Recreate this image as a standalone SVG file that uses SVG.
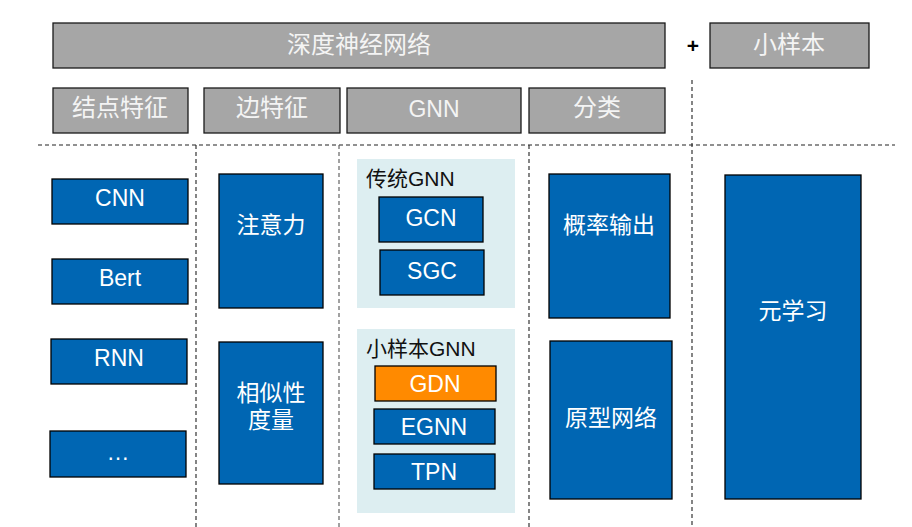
<svg xmlns="http://www.w3.org/2000/svg" width="912" height="527" viewBox="0 0 912 527">
<style>
.g{fill:#A6A6A6;stroke:#1a1a1a;stroke-width:1.3}
.b{fill:#0066B3;stroke:#000;stroke-width:1.3}
.o{fill:#FF8A00;stroke:#000;stroke-width:1.3}
.p{fill:#DDEEF1;stroke:none}
.tg{fill:#F4F4F4;font-family:"Liberation Sans","Noto Sans CJK SC",sans-serif;font-size:24px;text-anchor:middle}
.tw{fill:#FFFFFF;font-family:"Liberation Sans","Noto Sans CJK SC",sans-serif;font-size:23px;text-anchor:middle}
.tk{fill:#111;font-family:"Liberation Sans","Noto Sans CJK SC",sans-serif;font-size:21px}
.d{stroke:#222;stroke-width:1.1;stroke-dasharray:4,3;fill:none}
</style>
<g id="connectors">
<line class="d" x1="38" y1="145" x2="895" y2="145"/>
<line class="d" x1="196" y1="145" x2="196" y2="527"/>
<line class="d" x1="339" y1="145" x2="339" y2="527" style="stroke:#555"/>
<line class="d" x1="529" y1="145" x2="529" y2="527"/>
<line class="d" x1="692" y1="80" x2="692" y2="527"/>
</g>
<g id="dnn"><rect class="g" x="53" y="23" width="612" height="45"/><text class="tg" x="359" y="53">深度神经网络</text></g>
<g id="plus"><text x="693" y="53" font-family="Liberation Sans, sans-serif" font-size="21" font-weight="bold" text-anchor="middle" fill="#000">+</text></g>
<g id="fewshot"><rect class="g" x="710" y="23" width="159" height="45"/><text class="tg" x="789" y="53">小样本</text></g>
<g id="nodefeat"><rect class="g" x="53" y="88" width="135" height="45"/><text class="tg" x="120" y="116">结点特征</text></g>
<g id="edgefeat"><rect class="g" x="204" y="88" width="136" height="45"/><text class="tg" x="272" y="116">边特征</text></g>
<g id="gnnhead"><rect class="g" x="347" y="88" width="174" height="45"/><text class="tg" x="434" y="117" style="font-size:23px">GNN</text></g>
<g id="classify"><rect class="g" x="529" y="88" width="136" height="45"/><text class="tg" x="597" y="116">分类</text></g>
<g id="cnn"><rect class="b" x="52" y="179" width="136" height="45"/><text class="tw" x="120" y="206">CNN</text></g>
<g id="bert"><rect class="b" x="52" y="259" width="136" height="45"/><text class="tw" x="120" y="286">Bert</text></g>
<g id="rnn"><rect class="b" x="51" y="339" width="136" height="45"/><text class="tw" x="119" y="366">RNN</text></g>
<g id="etc"><rect class="b" x="50" y="431" width="136" height="46"/><text class="tw" x="118" y="460">…</text></g>
<g id="attention"><rect class="b" x="219" y="174" width="104" height="134"/><text class="tw" x="271" y="233">注意力</text></g>
<g id="similarity"><rect class="b" x="219" y="342" width="104" height="142"/><text class="tw" x="271" y="401">相似性</text><text class="tw" x="271" y="428">度量</text></g>
<g id="tradgnn"><rect class="p" x="357" y="159" width="158" height="149"/><text class="tk" x="366" y="186">传统GNN</text></g>
<g id="gcn"><rect class="b" x="379" y="197" width="104" height="45"/><text class="tw" x="431" y="226">GCN</text></g>
<g id="sgc"><rect class="b" x="380" y="250" width="104" height="45"/><text class="tw" x="432" y="279">SGC</text></g>
<g id="fsgnn"><rect class="p" x="357" y="329" width="158" height="184"/><text class="tk" x="366" y="356">小样本GNN</text></g>
<g id="gdn"><rect class="o" x="375" y="366" width="121" height="35"/><text class="tw" x="435" y="392">GDN</text></g>
<g id="egnn"><rect class="b" x="374" y="409" width="121" height="35"/><text class="tw" x="434" y="435">EGNN</text></g>
<g id="tpn"><rect class="b" x="374" y="454" width="121" height="35"/><text class="tw" x="434" y="480">TPN</text></g>
<g id="prob"><rect class="b" x="549" y="174" width="121" height="144"/><text class="tw" x="609" y="233">概率输出</text></g>
<g id="proto"><rect class="b" x="550" y="341" width="122" height="158"/><text class="tw" x="611" y="426">原型网络</text></g>
<g id="meta"><rect class="b" x="725" y="175" width="136" height="324"/><text class="tw" x="793" y="319">元学习</text></g>
</svg>
